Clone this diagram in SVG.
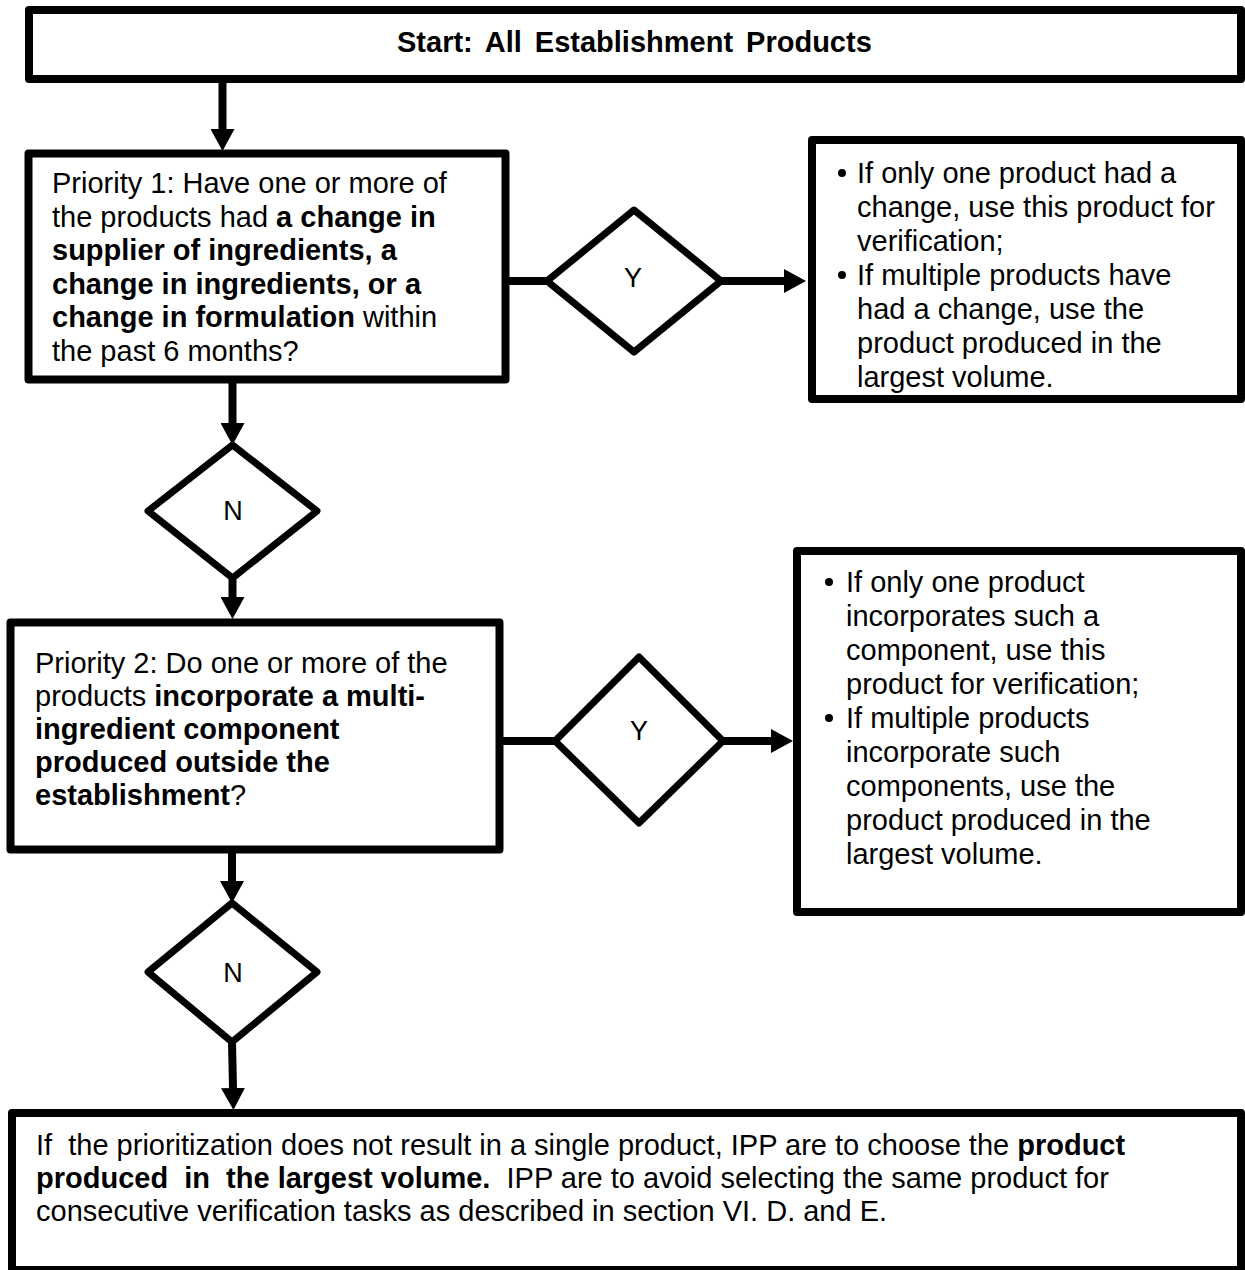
<svg xmlns="http://www.w3.org/2000/svg" width="1245" height="1270" viewBox="0 0 1245 1270">
<style>
.box{fill:#fff;stroke:#000;stroke-width:8;stroke-linejoin:round}
.dia{fill:#fff;stroke:#000;stroke-width:7;stroke-linejoin:round}
.con{stroke:#000;stroke-width:8;fill:none}
.t{font-family:"Liberation Sans",Arial,Helvetica,sans-serif;font-size:29px;fill:#000}
.b{font-weight:bold}
.lbl{font-family:"Liberation Sans",Arial,Helvetica,sans-serif;font-size:27px;fill:#000;text-anchor:middle}
</style>
<defs>
<marker id="arrow" markerUnits="userSpaceOnUse" viewBox="0 0 22 24" markerWidth="22" markerHeight="24" refX="0" refY="12" orient="auto">
<path d="M0,0 L22,12 L0,24 z" fill="#000"/>
</marker>
</defs>
<rect width="1245" height="1270" fill="#fff"/>

<g id="connectors">
<line class="con" x1="222.5" y1="83" x2="222.5" y2="129" marker-end="url(#arrow)"/>
<line class="con" x1="232.5" y1="383" x2="232.5" y2="423" marker-end="url(#arrow)"/>
<line class="con" x1="232.5" y1="578" x2="232.5" y2="597" marker-end="url(#arrow)"/>
<line class="con" x1="232" y1="853" x2="232" y2="881" marker-end="url(#arrow)"/>
<line class="con" x1="232" y1="1042" x2="233" y2="1088" marker-end="url(#arrow)"/>
<line class="con" x1="509" y1="281" x2="547" y2="281"/>
<line class="con" x1="721" y1="281" x2="784" y2="281" marker-end="url(#arrow)"/>
<line class="con" x1="503" y1="741" x2="555" y2="741"/>
<line class="con" x1="723" y1="741" x2="771" y2="741" marker-end="url(#arrow)"/>
</g>

<g id="start">
<rect class="box" x="29" y="10" width="1212" height="69"/>
<text class="t b" x="397" y="52" font-size="28" word-spacing="5">Start: All Establishment Products</text>
</g>

<g id="priority1">
<rect class="box" x="28.5" y="153.5" width="477" height="226"/>
<text class="t">
<tspan x="52" y="193">Priority 1: Have one or more of</tspan>
<tspan x="52" y="227">the products had <tspan class="b">a change in</tspan></tspan>
<tspan x="52" y="260" class="b">supplier of ingredients, a</tspan>
<tspan x="52" y="294" class="b">change in ingredients, or a</tspan>
<tspan x="52" y="327"><tspan class="b">change in formulation</tspan> within</tspan>
<tspan x="52" y="361">the past 6 months?</tspan>
</text>
</g>

<g id="decision-y1">
<polygon class="dia" points="634,210 721,281 634,352 547,281"/>
<text class="lbl" x="633" y="287">Y</text>
</g>

<g id="result1">
<rect class="box" x="812" y="140" width="429" height="259"/>
<circle cx="842" cy="173" r="4" fill="#000"/>
<circle cx="842" cy="275" r="4" fill="#000"/>
<text class="t">
<tspan x="857" y="183">If only one product had a</tspan>
<tspan x="857" y="217">change, use this product for</tspan>
<tspan x="857" y="251">verification;</tspan>
<tspan x="857" y="285">If multiple products have</tspan>
<tspan x="857" y="319">had a change, use the</tspan>
<tspan x="857" y="353">product produced in the</tspan>
<tspan x="857" y="387">largest volume.</tspan>
</text>
</g>

<g id="decision-n1">
<polygon class="dia" points="232.5,445 317,511 232.5,578 148,511"/>
<text class="lbl" x="233" y="520">N</text>
</g>

<g id="priority2">
<rect class="box" x="10.5" y="622.5" width="489" height="227"/>
<text class="t">
<tspan x="35" y="673">Priority 2: Do one or more of the</tspan>
<tspan x="35" y="706">products <tspan class="b">incorporate a multi-</tspan></tspan>
<tspan x="35" y="739" class="b">ingredient component</tspan>
<tspan x="35" y="772" class="b">produced outside the</tspan>
<tspan x="35" y="805"><tspan class="b">establishment</tspan>?</tspan>
</text>
</g>

<g id="decision-y2">
<polygon class="dia" points="639,657 723,741 639,823 555,741"/>
<text class="lbl" x="639" y="740">Y</text>
</g>

<g id="result2">
<rect class="box" x="797" y="551" width="444" height="361"/>
<circle cx="829" cy="582" r="4" fill="#000"/>
<circle cx="829" cy="718" r="4" fill="#000"/>
<text class="t">
<tspan x="846" y="592">If only one product</tspan>
<tspan x="846" y="626">incorporates such a</tspan>
<tspan x="846" y="660">component, use this</tspan>
<tspan x="846" y="694">product for verification;</tspan>
<tspan x="846" y="728">If multiple products</tspan>
<tspan x="846" y="762">incorporate such</tspan>
<tspan x="846" y="796">components, use the</tspan>
<tspan x="846" y="830">product produced in the</tspan>
<tspan x="846" y="864">largest volume.</tspan>
</text>
</g>

<g id="decision-n2">
<polygon class="dia" points="232,903 317,972 232,1042 148,972"/>
<text class="lbl" x="233" y="982">N</text>
</g>

<g id="final">
<rect class="box" x="12" y="1113" width="1229" height="157"/>
<text class="t" font-size="29.2" xml:space="preserve"><tspan x="36" y="1155">If  the prioritization does not result in a single product, IPP are to choose the <tspan class="b">product</tspan></tspan><tspan x="36" y="1188"><tspan class="b">produced  in  the largest volume.</tspan>  IPP are to avoid selecting the same product for</tspan><tspan x="36" y="1221">consecutive verification tasks as described in section VI. D. and E.</tspan></text>
</g>
</svg>
